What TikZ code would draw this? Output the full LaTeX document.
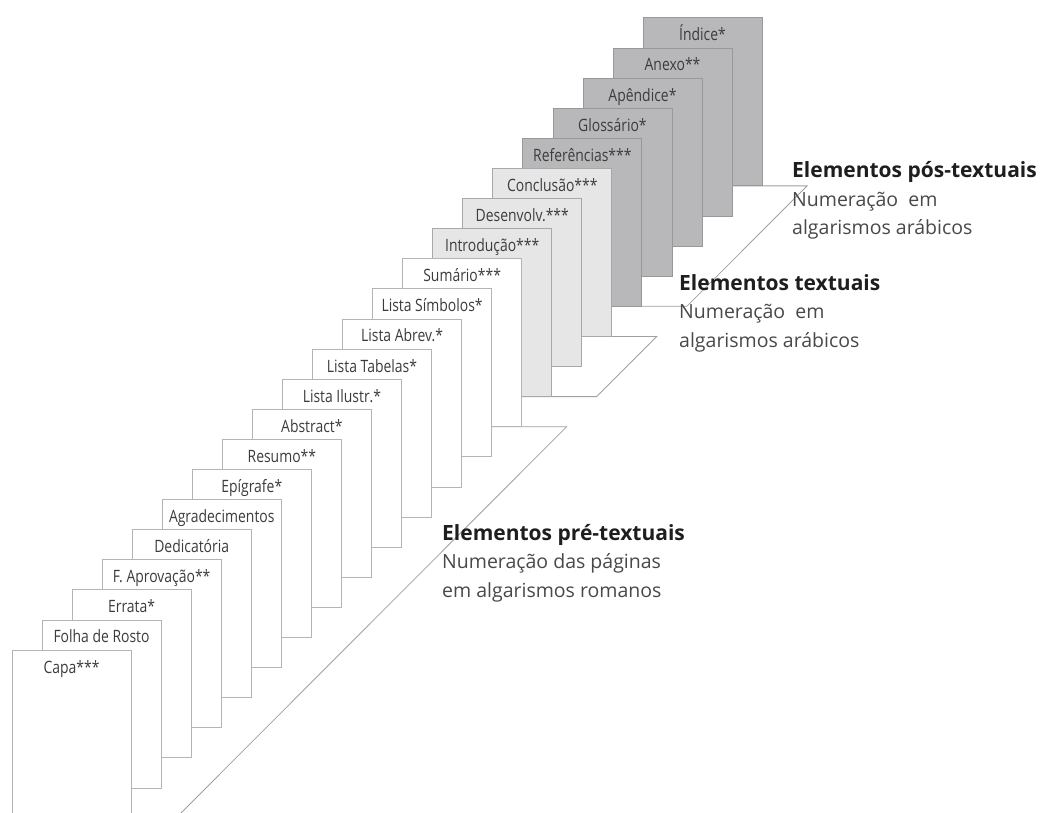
\documentclass[tikz,border=0pt]{standalone}
\usepackage{fontspec}
\setmainfont{Open Sans}
\newfontfamily\condfont[FakeStretch=0.82]{Open Sans}
\usetikzlibrary{backgrounds,calc}
\definecolor{preline}{HTML}{B4B4B4}
\definecolor{txtfill}{HTML}{E6E6E6}
\definecolor{txtline}{HTML}{A8A8A8}
\definecolor{posfill}{HTML}{B8B8BB}
\definecolor{posline}{HTML}{989898}
\definecolor{platline}{HTML}{A0A0A0}
\definecolor{labelcol}{HTML}{3C3C3C}
\definecolor{headcol}{HTML}{1E1E1E}
\definecolor{subcol}{HTML}{484848}
\begin{document}
\begin{tikzpicture}[x=1pt,y=1pt,
  pagebox/.style={line width=0.8pt, minimum width=119pt, minimum height=168pt,
    anchor=north west, inner sep=0pt, outer sep=0pt},
  plabel/.style={anchor=base, inner sep=0pt,
    font=\condfont\fontsize{17}{20}\selectfont, text=labelcol},
  platform/.style={draw=platline, fill=white, line width=0.8pt},
  head/.style={anchor=base west, align=left, inner sep=0pt,
    font=\fontsize{19.5}{28.5}\selectfont, text=subcol},
  headbold/.style={font=\bfseries\fontsize{21}{28.5}\selectfont}]
\useasboundingbox (0,0) rectangle (1042,-813);
\clip (0,0) rectangle (1042,-813);
\foreach \i/\t/\f/\d in {
  21/{Índice*}/posfill/posline,
  20/{Anexo**}/posfill/posline,
  19/{Apêndice*}/posfill/posline,
  18/{Glossário*}/posfill/posline,
  17/{Referências***}/posfill/posline,
  16/{Conclusão***}/txtfill/txtline,
  15/{Desenvolv.***}/txtfill/txtline,
  14/{Introdução***}/txtfill/txtline,
  13/{Sumário***}/white/preline,
  12/{Lista Símbolos*}/white/preline,
  11/{Lista Abrev.*}/white/preline,
  10/{Lista Tabelas*}/white/preline,
  9/{Lista Ilustr.*}/white/preline,
  8/{Abstract*}/white/preline,
  7/{Resumo**}/white/preline,
  6/{Epígrafe*}/white/preline,
  5/{Agradecimentos}/white/preline,
  4/{Dedicatória}/white/preline,
  3/{F. Aprovação**}/white/preline,
  2/{Errata*}/white/preline,
  1/{Folha de Rosto}/white/preline,
  0/{Capa***}/white/preline} {
  \node[pagebox, fill=\f, draw=\d] (p\i) at ({12+30.05*\i},{-650+30.1*\i}) {};
  \node[plabel] (l\i) at ($(p\i.north)+(0,-23)$) {\t};
}
\begin{scope}[on background layer]
  \draw[platform] (p21.south west) -- ($(p21.south east)+(45,0)$)
    -- ($(p17.south east)+(45,0)$) -- (p17.south west) -- cycle;
  \draw[platform] (p16.south west) -- ($(p16.south east)+(45,0)$)
    -- ($(p14.south east)+(45,0)$) -- (p14.south west) -- cycle;
  \draw[platform] (p13.south west) -- ($(p13.south east)+(45,0)$)
    -- ($(p0.south east)+(45,0)$) -- (p0.south west) -- cycle;
\end{scope}
\node[head] (hpos) at (792,-235)
  {\textcolor{headcol}{\bfseries\fontsize{21}{28.5}\selectfont Elementos pós-textuais}\\Numeração\ \ em\\algarismos arábicos};
\node[head] (htxt) at (679,-347)
  {\textcolor{headcol}{\bfseries\fontsize{21}{28.5}\selectfont Elementos textuais}\\Numeração\ \ em\\algarismos arábicos};
\node[head] (hpre) at (442,-597)
  {\textcolor{headcol}{\bfseries\fontsize{21}{28.5}\selectfont Elementos pré-textuais}\\Numeração das páginas\\em algarismos romanos};
\end{tikzpicture}
\end{document}
